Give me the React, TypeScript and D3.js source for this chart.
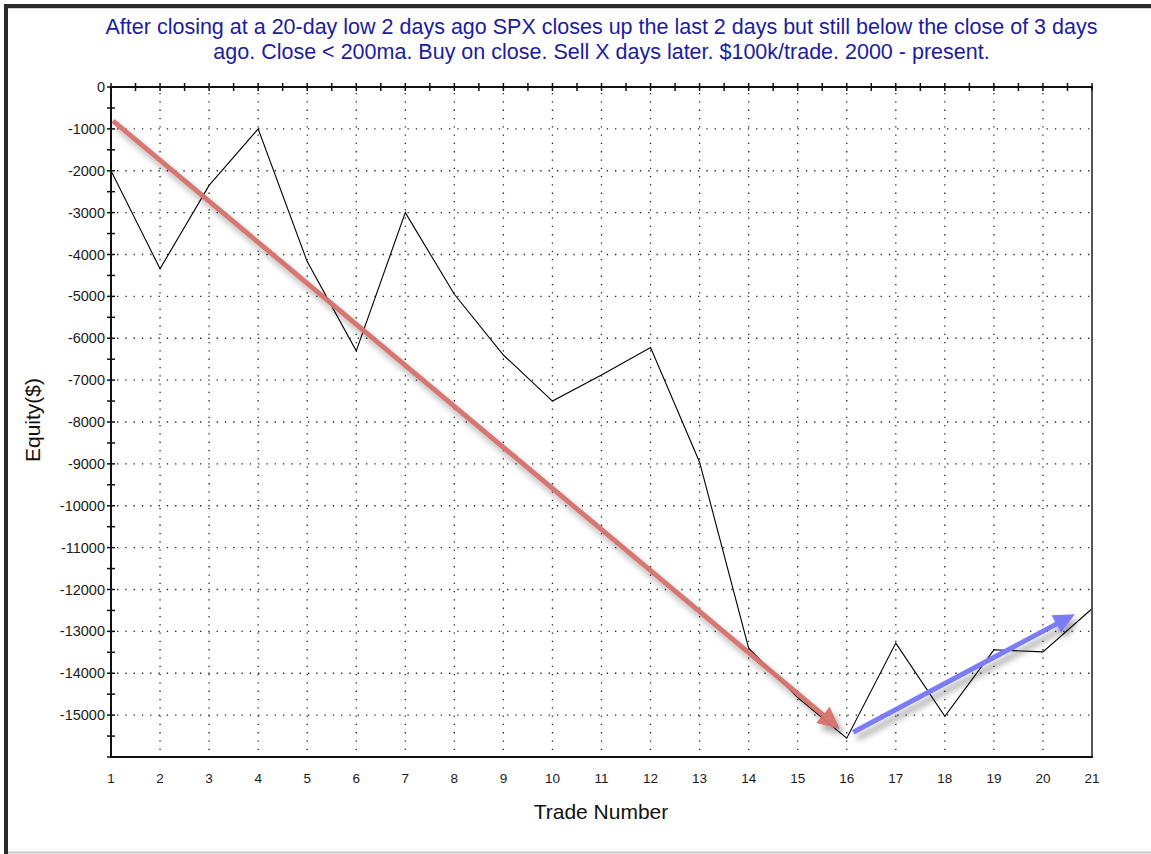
import React from "react";
import * as d3 from "d3";

const trades = [1, 2, 3, 4, 5, 6, 7, 8, 9, 10, 11, 12, 13, 14, 15, 16, 17, 18, 19, 20, 21];
const equity = [-2000, -4340, -2350, -1000, -4170, -6300, -3000, -4950, -6400, -7500, -6880, -6220, -8960, -13400, -14580, -15550, -13280, -15030, -13440, -13490, -12460];
const yTicks = [0, -1000, -2000, -3000, -4000, -5000, -6000, -7000, -8000, -9000, -10000, -11000, -12000, -13000, -14000, -15000];
const titleLines = [
  "After closing at a 20-day low 2 days ago SPX closes up the last 2 days but still below the close of 3 days",
  "ago. Close < 200ma. Buy on close. Sell X days later. $100k/trade. 2000 - present.",
];
// annotation arrows in data coordinates [trade, equity]
const redArrow = [[1.04, -810], [15.86, -15330]];
const blueArrow = [[16.13, -15410], [20.65, -12590]];

const W = 1151, H = 854;
const L = 111, R = 1092, T = 87, B = 757;

function arrowPath(x1: number, y1: number, x2: number, y2: number, sw: number, hl: number, hw: number) {
  const dx = x2 - x1, dy = y2 - y1;
  const len = Math.sqrt(dx * dx + dy * dy);
  const ux = dx / len, uy = dy / len;
  const px = -uy, py = ux;
  const bx = x2 - ux * hl, by = y2 - uy * hl;
  const pts = [
    [x1 + px * sw / 2, y1 + py * sw / 2],
    [bx + px * sw / 2, by + py * sw / 2],
    [bx + px * hw / 2, by + py * hw / 2],
    [x2, y2],
    [bx - px * hw / 2, by - py * hw / 2],
    [bx - px * sw / 2, by - py * sw / 2],
    [x1 - px * sw / 2, y1 - py * sw / 2],
  ];
  return "M" + pts.map((p) => p[0].toFixed(1) + "," + p[1].toFixed(1)).join("L") + "Z";
}

export default function App() {
  const x = d3.scaleLinear().domain([1, 21]).range([L, R]);
  const y = d3.scaleLinear().domain([-16000, 0]).range([B, T]);
  const line = d3.line<number>().x((_, i) => x(trades[i])).y((d) => y(d));
  const font = "'Liberation Sans', Arial, sans-serif";
  const minorY = d3.range(0, -16001, -500);
  const topTicks = d3.range(1, 21.01, 0.5);
  const gridX = trades.filter((t) => t > 1 && t < 21);
  const gridY = yTicks.filter((t) => t < 0);
  const ra = redArrow.map((p) => [x(p[0]), y(p[1])]);
  const ba = blueArrow.map((p) => [x(p[0]), y(p[1])]);
  return (
    <svg width={W} height={H} style={{ position: "absolute", left: 0, top: 0, background: "#fff" }} fontFamily={font}>
      <defs>
        <filter id="sh" x="-20%" y="-20%" width="140%" height="140%">
          <feDropShadow dx="4" dy="6" stdDeviation="3" floodColor="#000" floodOpacity="0.35" />
        </filter>
      </defs>
      <rect x={0} y={0} width={W} height={H} fill="#fff" />
      {/* outer frame */}
      <rect x={4} y={4} width={W - 4} height={4} fill="#2b2b2b" />
      <rect x={4} y={4} width={4} height={H - 4} fill="#2b2b2b" />
      <line x1={8} x2={W} y1={8.5} y2={8.5} stroke="#cfcfcf" strokeWidth={1} />
      <line x1={8} x2={W} y1={852.5} y2={852.5} stroke="#c8c8c8" strokeWidth={2} />
      {/* title */}
      {titleLines.map((t, i) => (
        <text key={i} x={601.5} y={34 + i * 25} textAnchor="middle" fontSize={21.5} fill="#1c1ca0">{t}</text>
      ))}
      {/* grid */}
      <g stroke="#222" strokeWidth={1.3} strokeDasharray="1.3 7" >
        {gridX.map((t) => (
          <line key={"gx" + t} x1={x(t)} x2={x(t)} y1={T + 6} y2={B} />
        ))}
        {gridY.map((t) => (
          <line key={"gy" + t} x1={L + 6} x2={R} y1={y(t)} y2={y(t)} />
        ))}
      </g>
      {/* data line */}
      <path d={line(equity) || ""} fill="none" stroke="#000" strokeWidth={1.1} />
      {/* arrows */}
      <path d={arrowPath(ra[0][0], ra[0][1], ra[1][0], ra[1][1], 5, 22, 21)} fill="#d5716c" fillOpacity={0.95} filter="url(#sh)" />
      <path d={arrowPath(ba[0][0], ba[0][1], ba[1][0], ba[1][1], 5, 21, 20)} fill="#7c7cf6" filter="url(#sh)" />
      {/* frame axes */}
      <line x1={R} x2={R} y1={T} y2={B} stroke="#555" strokeWidth={2} />
      <line x1={L} x2={R + 1} y1={B} y2={B} stroke="#111" strokeWidth={2} />
      <line x1={L} x2={R + 1} y1={T} y2={T} stroke="#111" strokeWidth={2} />
      <line x1={L} x2={L} y1={T - 1} y2={B + 1} stroke="#111" strokeWidth={2} />
      {minorY.map((t) => (
        <line key={"my" + t} x1={L - 4} x2={L + 4} y1={y(t)} y2={y(t)} stroke="#111" strokeWidth={1.5} />
      ))}
      {topTicks.map((t) => (
        <line key={"tt" + t} x1={x(t)} x2={x(t)} y1={T - 4} y2={T + 4} stroke="#111" strokeWidth={1.5} />
      ))}
      {/* tick labels */}
      {yTicks.map((t) => (
        <text key={"yl" + t} x={105} y={y(t) + 5} textAnchor="end" fontSize={14.5} fill="#1a1a1a">{t}</text>
      ))}
      {trades.map((t) => (
        <text key={"xl" + t} x={x(t)} y={783} textAnchor="middle" fontSize={13.5} fill="#1a1a1a">{t}</text>
      ))}
      {/* axis titles */}
      <text x={601} y={819} textAnchor="middle" fontSize={21} fill="#111">Trade Number</text>
      <text transform={`translate(40,420) rotate(-90)`} textAnchor="middle" fontSize={21} fill="#111">Equity($)</text>
    </svg>
  );
}
